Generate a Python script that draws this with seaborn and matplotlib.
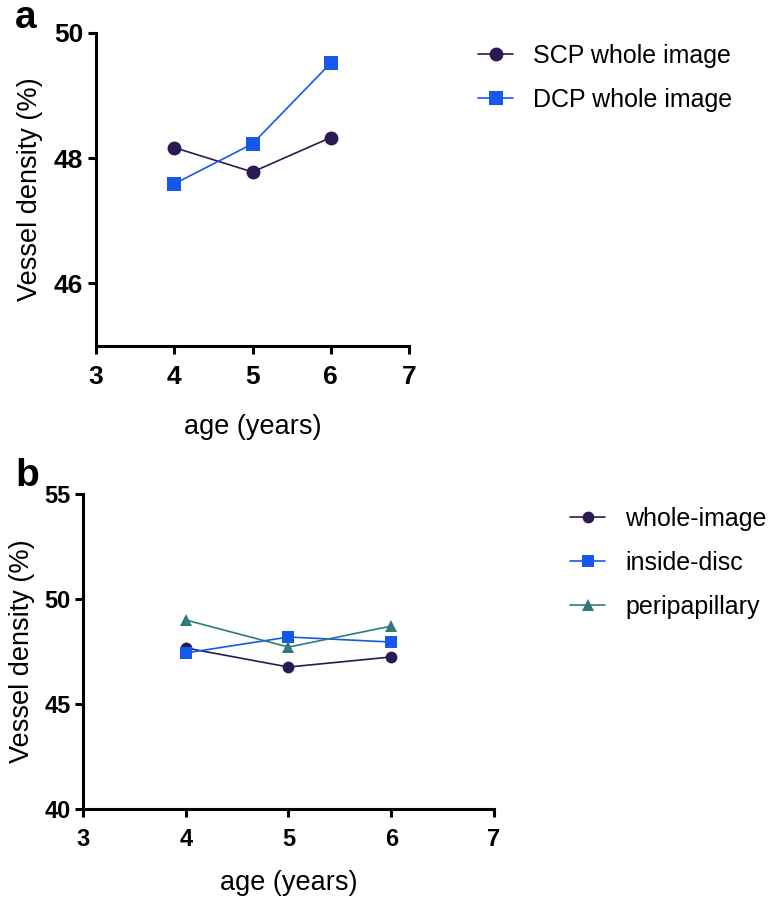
import matplotlib
matplotlib.use("Agg")
import matplotlib.pyplot as plt
import seaborn as sns
import pandas as pd

sns.set_theme(style="ticks")
plt.rcParams['font.family'] = ['Liberation Sans', 'DejaVu Sans']
plt.rcParams['text.color'] = 'black'
plt.rcParams['axes.labelcolor'] = 'black'
plt.rcParams['xtick.color'] = 'black'
plt.rcParams['ytick.color'] = 'black'

# Panel a data
ages = [4, 5, 6]
scp_whole = [48.17, 47.78, 48.33]
dcp_whole = [47.59, 48.23, 49.52]
labels_a = ["SCP whole image", "DCP whole image"]

# Panel b data
whole_image = [47.67, 46.76, 47.24]
inside_disc = [47.43, 48.19, 47.95]
peripapillary = [49.00, 47.71, 48.71]
labels_b = ["whole-image", "inside-disc", "peripapillary"]

xticks = [3, 4, 5, 6, 7]
yticks_a = [46, 48, 50]
yticks_b = [40, 45, 50, 55]

c_purple = "#2b1a52"
c_blue = "#1558eb"
c_teal = "#2f7b7c"

df_a = pd.DataFrame({
    "age": ages * 2,
    "vd": scp_whole + dcp_whole,
    "series": [labels_a[0]] * 3 + [labels_a[1]] * 3,
})
df_b = pd.DataFrame({
    "age": ages * 3,
    "vd": whole_image + inside_disc + peripapillary,
    "series": [labels_b[0]] * 3 + [labels_b[1]] * 3 + [labels_b[2]] * 3,
})

fig = plt.figure(figsize=(7.71, 9.02), dpi=100)
ax_a = fig.add_axes([96/771, 1-346/902, (409-96)/771, (346-33)/902])
ax_b = fig.add_axes([83/771, 1-809/902, (494-83)/771, (809-494)/902])

def style_axes(ax, yticks, ylim, fs, xpad, ylpad):
    ax.set_xlim(3, 7)
    ax.set_ylim(*ylim)
    ax.set_xticks(xticks)
    ax.set_yticks(yticks)
    for s in ["top", "right"]:
        ax.spines[s].set_visible(False)
    for s in ["left", "bottom"]:
        ax.spines[s].set_linewidth(2.2)
        ax.spines[s].set_color("black")
    ax.tick_params(axis="both", length=6, width=2.2, color="black",
                   labelcolor="black", labelsize=fs)
    ax.tick_params(axis="x", pad=8)
    ax.tick_params(axis="y", pad=3)
    for lab in ax.get_xticklabels() + ax.get_yticklabels():
        lab.set_fontweight("bold")
        lab.set_fontsize(fs)
    ax.set_xlabel("age (years)", fontsize=19.5, labelpad=xpad)
    ax.set_ylabel("Vessel density (%)", fontsize=19.5, labelpad=ylpad)
    ax.set_facecolor("white")

sns.lineplot(data=df_a, x="age", y="vd", hue="series", style="series",
             palette=[c_purple, c_blue], markers=["o", "s"], dashes=False,
             markersize=10, linewidth=1.2, markeredgewidth=0, ax=ax_a,
             legend=True)
sns.lineplot(data=df_b, x="age", y="vd", hue="series", style="series",
             palette=[c_purple, c_blue, c_teal], markers=["o", "s", "^"], dashes=False,
             markersize=8.5, linewidth=1.2, markeredgewidth=0, ax=ax_b,
             legend=True)

style_axes(ax_a, yticks_a, (45, 50), 19, 18, 8)
style_axes(ax_b, yticks_b, (40, 55), 17, 13, 7)

for ax, anchor in [(ax_a, (478/771, 1-44/902)), (ax_b, (570/771, 1-507/902))]:
    h, l = ax.get_legend_handles_labels()
    ax.legend(h, l, loc="upper left", bbox_to_anchor=anchor,
              bbox_transform=fig.transFigure, frameon=False, fontsize=18,
              handlelength=1.4, handletextpad=0.8, labelspacing=0.8,
              borderpad=0, borderaxespad=0)

fig.text(15/771, 1-18/902, "a", fontsize=28, fontweight="bold", va="center", ha="left")
fig.text(15/771, 1-476/902, "b", fontsize=28, fontweight="bold", va="center", ha="left")

fig.savefig("out.png", dpi=100, facecolor="white")
